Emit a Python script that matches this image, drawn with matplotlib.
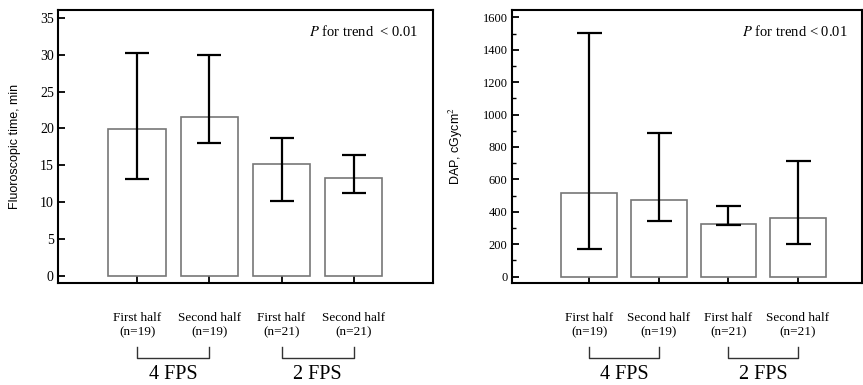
import matplotlib
matplotlib.use("Agg")
import matplotlib.pyplot as plt
import matplotlib.transforms as mtransforms
import numpy as np

# data
groups = ["First half\n(n=19)", "Second half\n(n=19)", "First half\n(n=21)", "Second half\n(n=21)"]
fps_labels = ["4 FPS", "2 FPS"]

fluoro_median = [19.9, 21.5, 15.2, 13.2]
fluoro_low = [13.1, 18.0, 10.2, 11.2]
fluoro_high = [30.3, 30.0, 18.7, 16.4]

dap_median = [514, 473, 323, 360]
dap_low = [171, 342, 317, 204]
dap_high = [1505, 888, 434, 712]

plt.rcParams['font.family'] = ['Liberation Serif', 'DejaVu Serif']
plt.rcParams['mathtext.fontset'] = 'stix'

fig = plt.figure(figsize=(8.63, 3.85), dpi=100)
ax1 = fig.add_axes([0.0672, 0.265, 0.4345, 0.709])
ax2 = fig.add_axes([0.593, 0.265, 0.406, 0.709])


def draw_panel(ax, med, lo, hi, ylabel, ptext, ylim, yticks, xlim, tick_fs, capsize, label_x, minor=None):
    x = np.arange(len(med))
    med = np.array(med)
    err = [med - np.array(lo), np.array(hi) - med]
    ax.bar(x, med, width=0.8, color='white', edgecolor='#777777', linewidth=1.2, zorder=2)
    ax.errorbar(x, med, yerr=err, fmt='none', ecolor='black', elinewidth=1.6,
                capsize=capsize, capthick=1.6, zorder=3)
    ax.set_xlim(*xlim)
    ax.set_ylim(*ylim)
    ax.set_yticks(yticks)
    if minor is not None:
        ax.set_yticks(minor, minor=True)
    for s in ax.spines.values():
        s.set_linewidth(1.5)
    ax.tick_params(axis='y', direction='in', length=5, width=1.3, labelsize=tick_fs, pad=3)
    ax.tick_params(axis='y', which='minor', direction='in', length=3, width=1.0)
    ax.tick_params(axis='x', direction='in', length=6, width=1.3, labelsize=9.5, pad=21)
    ax.set_xticks(x)
    ax.set_xticklabels(groups, linespacing=1.25)
    ax.set_ylabel(ylabel, family=['Liberation Sans', 'DejaVu Sans'], fontsize=9, va='center')
    ax.yaxis.set_label_coords(label_x, 0.5)
    ax.text(0.96, 0.92, ptext, transform=ax.transAxes,
            ha='right', va='center', fontsize=10.5)

    # brackets joining the halves of each frame rate
    tr = mtransforms.blended_transform_factory(ax.transData, ax.transAxes)
    fig_tr = mtransforms.blended_transform_factory(ax.transData, fig.transFigure)
    for k, lab in enumerate(fps_labels):
        a, b = x[2 * k], x[2 * k + 1]
        ax.plot([a, a, b, b], [-0.236, -0.275, -0.275, -0.236], color='#333333',
                linewidth=1.0, transform=tr, clip_on=False)
        ax.text((a + b) / 2, 0.002, lab, transform=fig_tr, ha='center', va='bottom', fontsize=14.5)


draw_panel(ax1, fluoro_median, fluoro_low, fluoro_high, "Fluoroscopic time, min",
           r"$P$ for trend  < 0.01",
           (-1, 36.1), np.arange(0, 36, 5), (-1.1, 4.1), 10, 8.5, -0.115)
draw_panel(ax2, dap_median, dap_low, dap_high, r"DAP, cGycm$^{2}$",
           r"$P$ for trend < 0.01",
           (-39, 1645), np.arange(0, 1601, 200), (-1.11, 3.92), 9, 9, -0.16,
           minor=np.arange(0, 1601, 100))

fig.savefig("out.png", dpi=100)
